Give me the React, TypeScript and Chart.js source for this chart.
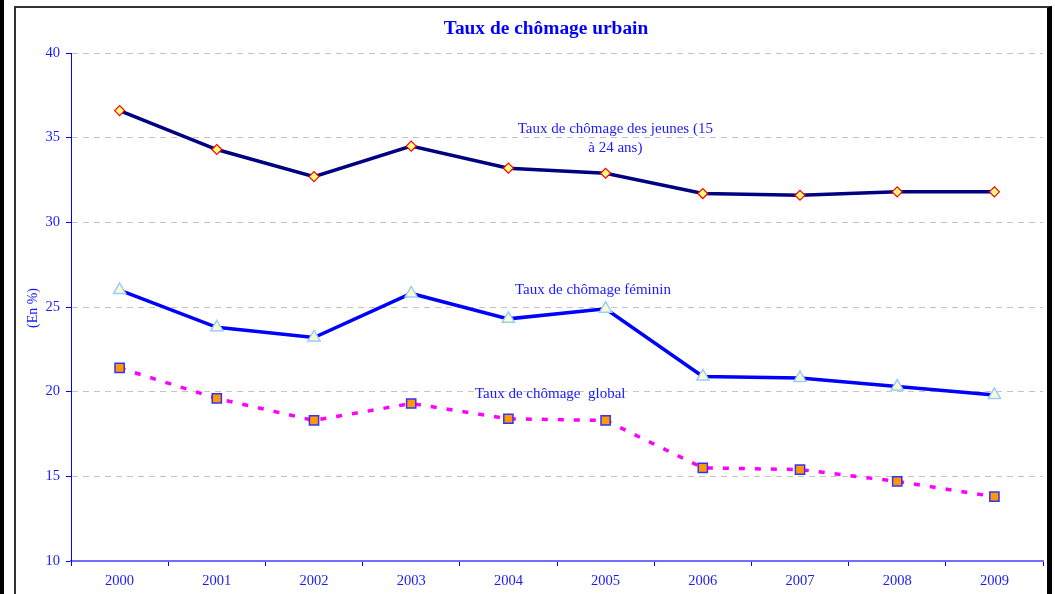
import { useEffect, useRef } from 'react';
import { Chart, registerables } from 'chart.js';

Chart.register(...registerables);

const years = ['2000', '2001', '2002', '2003', '2004', '2005', '2006', '2007', '2008', '2009'];
const jeunes = [36.6, 34.3, 32.7, 34.5, 33.2, 32.9, 31.7, 31.6, 31.8, 31.8];
const feminin = [26.0, 23.8, 23.2, 25.8, 24.3, 24.9, 20.9, 20.8, 20.3, 19.8];
const globalRate = [21.4, 19.6, 18.3, 19.3, 18.4, 18.3, 15.5, 15.4, 14.7, 13.8];
const yMin = 10;
const yMax = 40;
const yStep = 5;

const titleText = 'Taux de chômage urbain';
const yTitleText = '(En %)';

// series labels anchored in data coordinates (category index, value)
const seriesLabels = [
  { lines: ['Taux de chômage des jeunes (15', 'à 24 ans)'], xIndex: 5.1, yValue: 35.52 },
  { lines: ['Taux de chômage féminin'], xIndex: 4.87, yValue: 26.0 },
  { lines: ['Taux de chômage  global'], xIndex: 4.43, yValue: 19.86 },
];

const FONT = "'Liberation Serif', 'Times New Roman', serif";
const TEXT_BLUE = '#1a1aff';

const textPlugin = {
  id: 'textPlugin',
  afterDraw(chart: any) {
    const ctx = chart.ctx as CanvasRenderingContext2D;
    const xs = chart.scales.x;
    const ys = chart.scales.y;
    ctx.save();
    // title
    ctx.fillStyle = '#0000ff';
    ctx.font = `bold 19.4px ${FONT}`;
    ctx.textAlign = 'center';
    ctx.textBaseline = 'middle';
    ctx.fillText(titleText, 530, 21);
    // y axis title
    ctx.save();
    ctx.translate(17, 300);
    ctx.rotate(-Math.PI / 2);
    ctx.font = `14px ${FONT}`;
    ctx.fillStyle = TEXT_BLUE;
    ctx.fillText(yTitleText, 0, 0);
    ctx.restore();
    // series labels
    ctx.font = `15px ${FONT}`;
    ctx.fillStyle = TEXT_BLUE;
    seriesLabels.forEach((l) => {
      const x = xs.getPixelForValue(l.xIndex);
      const y0 = ys.getPixelForValue(l.yValue);
      l.lines.forEach((line, i) => {
        ctx.fillText(line, x, y0 + i * 19);
      });
    });
    ctx.restore();
  },
};

export default function App() {
  const ref = useRef<HTMLCanvasElement>(null);
  useEffect(() => {
    const chart = new Chart(ref.current!, {
      type: 'line',
      data: {
        labels: years,
        datasets: [
          {
            label: 'Taux de chômage des jeunes (15 à 24 ans)',
            data: jeunes,
            borderColor: '#000080',
            borderWidth: 3.5,
            pointStyle: 'rectRot',
            pointRadius: 5,
            pointBackgroundColor: '#ffff80',
            pointBorderColor: '#ff0000',
            pointBorderWidth: 1.2,
            tension: 0,
            fill: false,
          },
          {
            label: 'Taux de chômage féminin',
            data: feminin,
            borderColor: '#0000ff',
            borderWidth: 3.5,
            pointStyle: 'triangle',
            pointRadius: 7,
            pointBackgroundColor: '#ffffcc',
            pointBorderColor: '#99ccff',
            pointBorderWidth: 1.5,
            tension: 0,
            fill: false,
          },
          {
            label: 'Taux de chômage global',
            data: globalRate,
            borderColor: '#ff00ff',
            borderWidth: 3.5,
            borderDash: [6, 10],
            pointStyle: 'rect',
            pointRadius: 6.5,
            pointBackgroundColor: '#ff9900',
            pointBorderColor: '#3333ff',
            pointBorderWidth: 1.5,
            tension: 0,
            fill: false,
          },
        ],
      },
      options: {
        animation: false,
        responsive: false,
        maintainAspectRatio: false,
        layout: { autoPadding: false, padding: { top: 45, right: 4, left: 0, bottom: 0 } },
        plugins: {
          legend: { display: false },
          tooltip: { enabled: false },
          title: { display: false },
        },
        scales: {
          x: {
            offset: true,
            grid: {
              display: true,
              offset: true,
              drawOnChartArea: false,
              drawTicks: true,
              tickLength: 5,
              tickColor: '#0000ff',
              tickWidth: 1,
            },
            border: { display: true, color: '#7070ff', width: 2 },
            ticks: {
              color: TEXT_BLUE,
              font: { family: FONT, size: 14.5 },
              padding: 6,
              maxRotation: 0,
              autoSkip: false,
            },
            afterFit: (s: any) => {
              s.height = 33;
            },
          },
          y: {
            min: yMin,
            max: yMax,
            ticks: {
              stepSize: yStep,
              color: TEXT_BLUE,
              font: { family: FONT, size: 14.5 },
              padding: 6,
            },
            grid: {
              color: (c: any) => (c.tick && c.tick.value === yMin ? 'rgba(0,0,0,0)' : '#c4c4c4'),
              lineWidth: 1,
              tickLength: 5,
              tickColor: '#0000ff',
              tickWidth: 1,
            },
            border: { display: true, color: '#0000ff', width: 1, dash: [6, 5] },
            afterFit: (s: any) => {
              s.width = 55;
            },
          },
        },
      },
      plugins: [textPlugin],
    } as any);
    return () => chart.destroy();
  }, []);

  return (
    <div
      style={{
        position: 'fixed',
        left: 0,
        top: 0,
        width: 1055,
        height: 594,
        background: '#fff',
        overflow: 'hidden',
      }}
    >
      <div style={{ position: 'absolute', left: 0, top: 0, width: 4, height: 594, background: '#000' }} />
      <div
        style={{
          position: 'absolute',
          left: 14,
          top: 6,
          width: 1031,
          height: 600,
          borderLeft: '2px solid #333',
          borderTop: '2px solid #333',
          borderRight: '5px solid #000',
          background: '#fff',
        }}
      >
        <canvas ref={ref} width={1031} height={586} style={{ display: 'block', width: 1031, height: 586 }} />
      </div>
    </div>
  );
}
